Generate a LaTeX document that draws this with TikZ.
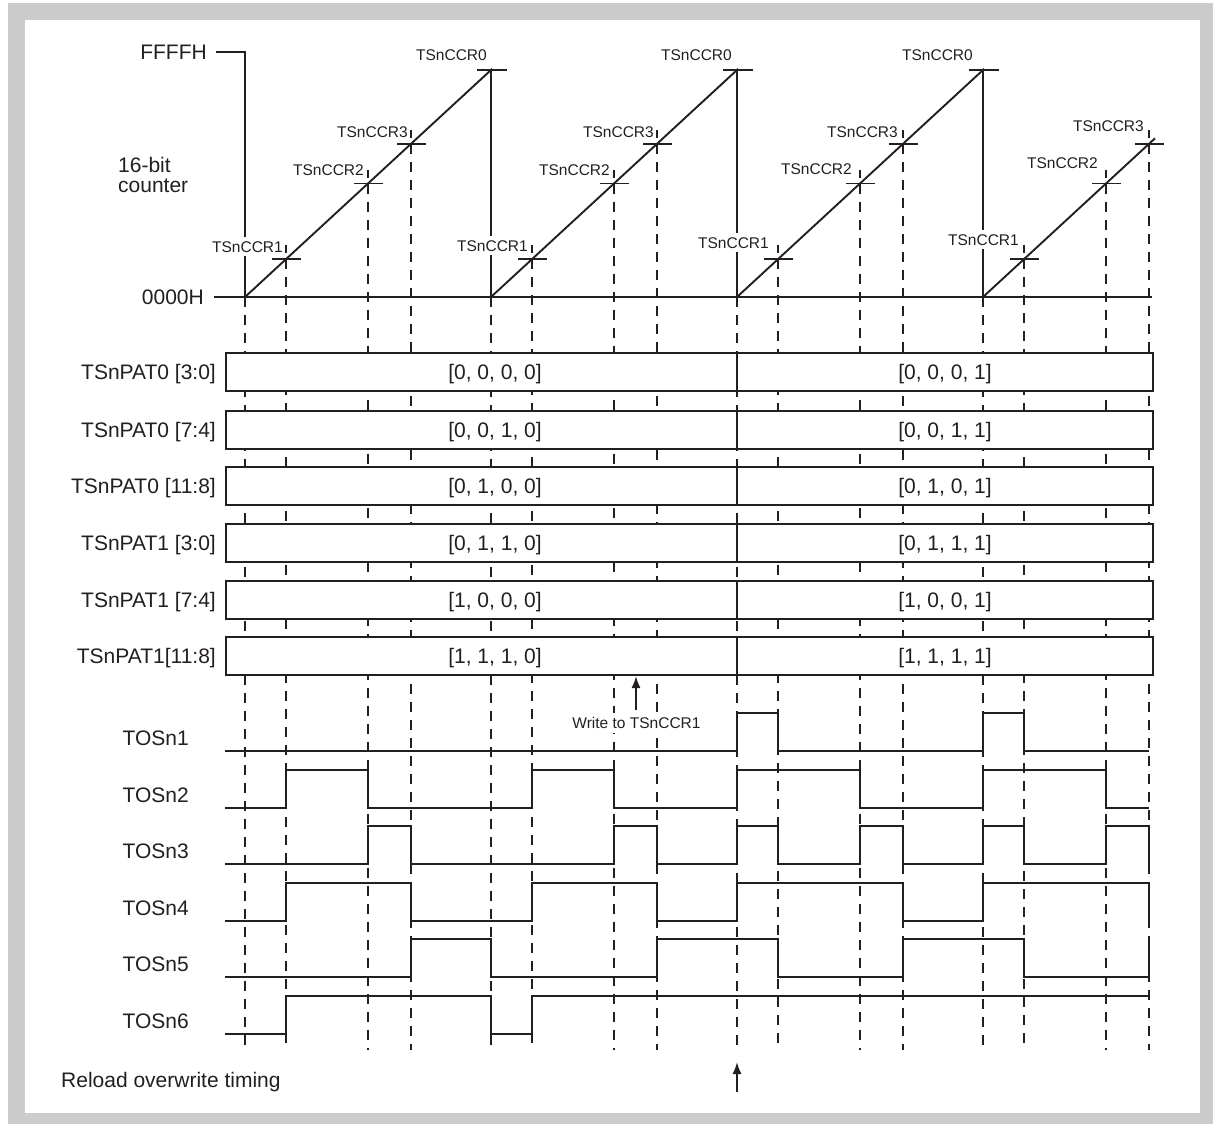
\documentclass[tikz,border=0pt]{standalone}
\usepackage{fontspec}
\setmainfont{Liberation Sans}
\usetikzlibrary{arrows.meta,calc}
\definecolor{ink}{HTML}{231F20}
\definecolor{framegray}{HTML}{CCCCCC}
\begin{document}
\begin{tikzpicture}[x=1pt,y=-1pt,
  line/.style={draw=ink,line width=1.9pt},
  guide/.style={draw=ink,line width=1.7pt,dash pattern=on 10pt off 8pt},
  big/.style={font=\fontsize{21}{24}\selectfont,text=ink,inner sep=0pt},
  small/.style={font=\fontsize{15.5}{18}\selectfont,text=ink,inner sep=0pt},
  ccrlab/.style={small,fill=white,inner xsep=1pt,inner ysep=4pt,anchor=base east},
  patbox/.style={line,fill=white},
  uparrow/.style={draw=ink,line width=1.9pt,-{Latex[length=12pt,width=9pt]}}
]
% frame
\fill[white] (0,0) rectangle (1213,1124);
\fill[framegray] (8,3) rectangle (1213,1124);
\fill[white] (25,20) rectangle (1200,1113);
\useasboundingbox (0,0) rectangle (1213,1124);

% dashed guide lines
\foreach \s in {245,491,737,983} {
  \draw[guide] (\s,297) -- (\s,1050);
  \foreach \o in {41,123,166} {
    \pgfmathsetmacro\xx{\s+\o}
    \pgfmathsetmacro\yy{297-\o*0.92276}
    \draw[guide] (\xx,\yy) -- (\xx,1050);
  }
}

% counter
\node[big,anchor=east] (ffff) at (207,52) {FFFFH};
\node[big,anchor=east] (zero) at (204,297) {0000H};
\node[big,anchor=base west] (cnt1) at (118,172) {16-bit};
\node[big,anchor=base west] (cnt2) at (118,192) {counter};
\draw[line] (214,297) -- (1152,297);
\draw[line] (216,52) -- (245,52) -- (245,297);
\draw[line] (245,297) -- (491,70) -- (491,297) -- (737,70) -- (737,297) -- (983,70) -- (983,297) -- (1155,138.3);
\foreach \x in {491,737,983} { \draw[line] (\x-14,70) -- (\x+16,70); }
\foreach \s in {245,491,737,983} {
  \foreach \o in {41,123,166} {
    \pgfmathsetmacro\xx{\s+\o}
    \pgfmathsetmacro\yy{297-\o*0.92276}
    \draw[line] (\xx-14,\yy) -- (\xx+15,\yy);
  }
}

% compare labels
\node[ccrlab] (c0a) at (488,60) {TSnCCR0};
\node[ccrlab] (c0b) at (733,60) {TSnCCR0};
\node[ccrlab] (c0c) at (974,60) {TSnCCR0};
\node[ccrlab] (c3a) at (409,137) {TSnCCR3};
\node[ccrlab] (c3b) at (655,137) {TSnCCR3};
\node[ccrlab] (c3c) at (899,137) {TSnCCR3};
\node[ccrlab] (c3d) at (1145,131) {TSnCCR3};
\node[ccrlab] (c2a) at (365,175) {TSnCCR2};
\node[ccrlab] (c2b) at (611,175) {TSnCCR2};
\node[ccrlab] (c2c) at (853,174) {TSnCCR2};
\node[ccrlab] (c2d) at (1099,168) {TSnCCR2};
\node[ccrlab] (c1a) at (284,252) {TSnCCR1};
\node[ccrlab] (c1b) at (529,251) {TSnCCR1};
\node[ccrlab] (c1c) at (770,248) {TSnCCR1};
\node[ccrlab] (c1d) at (1020,245) {TSnCCR1};
\foreach \s in {245,491,737,983} {
  \foreach \o in {41,123,166} {
    \pgfmathsetmacro\xx{\s+\o}
    \pgfmathsetmacro\yy{297-\o*0.92276}
    \draw[draw=ink,line width=1.7pt] (\xx,\yy-14) -- (\xx,\yy-6);
  }
}

% pattern registers
\foreach \tp/\lab/\va/\vb [count=\i from 0] in {
  353/{TSnPAT0 [3:0]}/{[0, 0, 0, 0]}/{[0, 0, 0, 1]},
  411/{TSnPAT0 [7:4]}/{[0, 0, 1, 0]}/{[0, 0, 1, 1]},
  467/{TSnPAT0 [11:8]}/{[0, 1, 0, 0]}/{[0, 1, 0, 1]},
  524/{TSnPAT1 [3:0]}/{[0, 1, 1, 0]}/{[0, 1, 1, 1]},
  581/{TSnPAT1 [7:4]}/{[1, 0, 0, 0]}/{[1, 0, 0, 1]},
  637/{TSnPAT1[11:8]}/{[1, 1, 1, 0]}/{[1, 1, 1, 1]}} {
  \draw[patbox] (226,\tp) rectangle (1153,\tp+38);
  \draw[line] (737,\tp) -- (737,\tp+38);
  \node[big,anchor=base east] (pl\i) at (216,\tp+26) {\lab};
  \node[big,anchor=base] (pa\i) at (495,\tp+26) {\va};
  \node[big,anchor=base] (pb\i) at (945,\tp+26) {\vb};
}

% write arrow
\node[small,fill=white,inner xsep=2pt,inner ysep=4pt] (wr) at (636.5,723) {Write to TSnCCR1};
\coordinate (wtail) at (636,710);
\coordinate (wtip) at (636,676);
\draw[uparrow] (wtail) -- (wtip);

% outputs
\foreach \n/\ly in {1/751,2/808,3/864,4/921,5/977,6/1034} {
  \node[big,anchor=east] (tos\n) at (189,\ly-13) {TOSn\n};
}
\begin{scope}[shift={(0,751)}]
\draw[line] (225,0) -- (737,0) -- (737,-38) -- (778,-38) -- (778,0) -- (983,0) -- (983,-38) -- (1024,-38) -- (1024,0) -- (1149,0);
\end{scope}
\begin{scope}[shift={(0,808)}]
\draw[line] (225,0) -- (286,0) -- (286,-38) -- (368,-38) -- (368,0) -- (532,0) -- (532,-38) -- (614,-38) -- (614,0) -- (737,0) -- (737,-38) -- (860,-38) -- (860,0) -- (983,0) -- (983,-38) -- (1106,-38) -- (1106,0) -- (1149,0);
\end{scope}
\begin{scope}[shift={(0,864)}]
\draw[line] (225,0) -- (368,0) -- (368,-38) -- (411,-38) -- (411,0) -- (614,0) -- (614,-38) -- (657,-38) -- (657,0) -- (737,0) -- (737,-38) -- (778,-38) -- (778,0) -- (860,0) -- (860,-38) -- (903,-38) -- (903,0) -- (983,0) -- (983,-38) -- (1024,-38) -- (1024,0) -- (1106,0) -- (1106,-38) -- (1149,-38) -- (1149,0);
\end{scope}
\begin{scope}[shift={(0,921)}]
\draw[line] (225,0) -- (286,0) -- (286,-38) -- (411,-38) -- (411,0) -- (532,0) -- (532,-38) -- (657,-38) -- (657,0) -- (737,0) -- (737,-38) -- (903,-38) -- (903,0) -- (983,0) -- (983,-38) -- (1149,-38) -- (1149,0);
\end{scope}
\begin{scope}[shift={(0,977)}]
\draw[line] (225,0) -- (411,0) -- (411,-38) -- (491,-38) -- (491,0) -- (657,0) -- (657,-38) -- (778,-38) -- (778,0) -- (903,0) -- (903,-38) -- (1024,-38) -- (1024,0) -- (1149,0) -- (1149,-38);
\end{scope}
\begin{scope}[shift={(0,1034)}]
\draw[line] (225,0) -- (286,0) -- (286,-38) -- (491,-38) -- (491,0) -- (532,0) -- (532,-38) -- (1149,-38);
\end{scope}

% reload
\node[font=\fontsize{21}{24}\selectfont,text=ink,inner sep=0pt,anchor=base west] (rl) at (61,1087) {Reload overwrite timing};
\coordinate (rtail) at (737,1092);
\coordinate (rtip) at (737,1062);
\draw[uparrow] (rtail) -- (rtip);
\end{tikzpicture}
\end{document}
